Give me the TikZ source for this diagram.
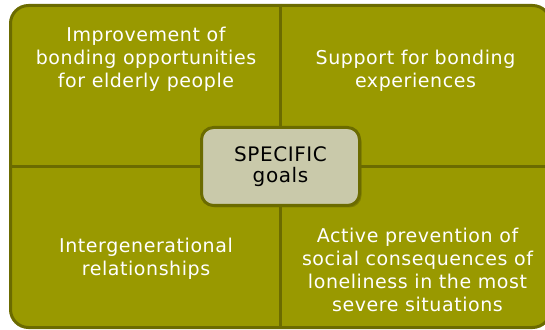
\documentclass[tikz,border=0pt]{standalone}
\usepackage{fontspec}
\setmainfont[LetterSpace=3]{DejaVu Sans}
\definecolor{olive}{RGB}{153, 153, 0}
\definecolor{oliveline}{RGB}{107, 107, 0}
\definecolor{sand}{RGB}{201, 201, 170}
\usepackage{tikz}
\usepackage{xcolor}
\usetikzlibrary{shadows}

\begin{document}
\begin{tikzpicture}[x=1pt, y=1pt,
    goaltext/.style={text=white, align=center, inner sep=0pt,
        font=\fontsize{19}{23}\selectfont},
    divider/.style={draw=oliveline, line width=3pt}]
    \useasboundingbox (0,0) rectangle (545,329);
    \clip (0,0) rectangle (545,329);
    % background board
    \node[fill=olive, draw=oliveline, line width=3pt, rounded corners=18pt,
          inner sep=0pt, minimum width=540pt, minimum height=322pt]
          (board) at (280.5,162.5) {};
    \draw[divider] (board.north) -- (board.south);
    \draw[divider] (board.west) -- (board.east);
    % centre box
    \node[fill=sand, draw=oliveline, line width=3pt, rounded corners=12pt,
          minimum width=158pt, minimum height=78pt, align=center,
          font=\fontsize{20}{21}\selectfont,
          drop shadow={shadow xshift=2pt, shadow yshift=-2pt, fill=oliveline, opacity=.6}]
          (goals) at (board.center) {SPECIFIC\\goals};
    % four quadrants
    \node[goaltext] (elderly) at (146,270) {Improvement of\\bonding opportunities\\for elderly people};
    \node[goaltext] (support) at (415.5,258.3) {Support for bonding\\experiences};
    \node[goaltext] (intergen) at (146,70.3) {Intergenerational\\relationships};
    \node[goaltext] (prevention) at (417.5,58.7) {Active prevention of\\social consequences of\\loneliness in the most\\severe situations};
\end{tikzpicture}
\end{document}
